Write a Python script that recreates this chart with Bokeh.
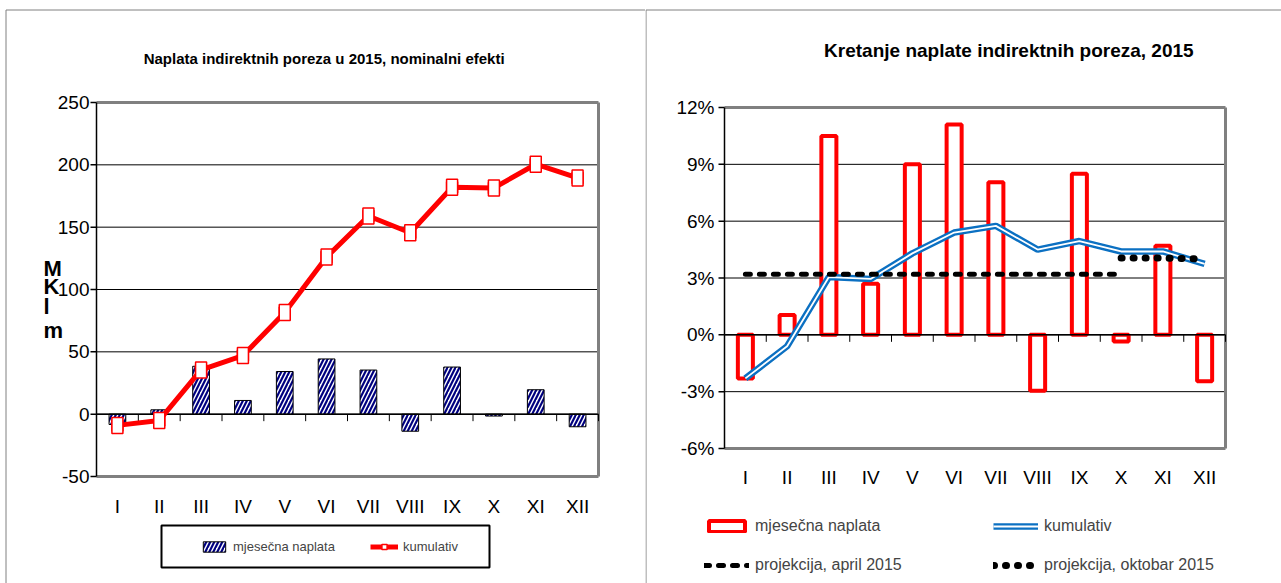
from bokeh.plotting import figure
from bokeh.models import Range1d, Legend, LegendItem
from bokeh.layouts import row
from bokeh.core.properties import value
from bokeh.embed import file_html
from bokeh.resources import INLINE

# ---------------- data ----------------
months = ["I", "II", "III", "IV", "V", "VI", "VII", "VIII", "IX", "X", "XI", "XII"]
left_title = "Naplata indirektnih poreza u 2015, nominalni efekti"
right_title = "Kretanje naplate indirektnih poreza,  2015"
left_ylabel_letters = ["M", "K", "l", "m"]

left_monthly = [-8.3, 3.5, 38.4, 11.0, 34.2, 44.3, 35.4, -13.7, 37.8, -1.5, 19.6, -10.1]
left_cumulative = [-9.0, -5.0, 35.5, 47.0, 81.5, 126.0, 159.0, 145.5, 182.0, 181.5, 200.5, 189.5]
left_y_ticks = [-50, 0, 50, 100, 150, 200, 250]
left_y_labels = ["-50", "0", "50", "100", "150", "200", "250"]

right_monthly = [-2.3, 1.05, 10.5, 2.7, 9.0, 11.1, 8.05, -2.95, 8.5, -0.35, 4.7, -2.45]
right_cumulative = [-2.3, -0.6, 3.05, 2.95, 4.3, 5.4, 5.75, 4.5, 4.95, 4.4, 4.4, 3.75]
proj_april_months = ["I", "II", "III", "IV", "V", "VI", "VII", "VIII", "IX", "X"]
proj_april = [3.2, 3.2, 3.2, 3.2, 3.2, 3.2, 3.2, 3.2, 3.2, 3.2]
proj_october_months = ["X", "XI", "XII"]
proj_october = [4.05, 4.05, 4.0]
right_y_ticks = [-6, -3, 0, 3, 6, 9, 12]
right_y_labels = ["-6%", "-3%", "0%", "3%", "6%", "9%", "12%"]

legend_monthly = "mjesečna naplata"
legend_cum = "kumulativ"
legend_april = "projekcija, april 2015"
legend_october = "projekcija, oktobar 2015"

# ---------------- styling ----------------
FONT = "Liberation Sans"
GRAY = "#808080"
RED = "#FF0000"
BLUE = "#0B70C2"
NAVY = "#000080"

xs = [months.index(m) + 1 for m in months]
x_april = [months.index(m) + 1 for m in proj_april_months]
x_october = [months.index(m) + 1 for m in proj_october_months]
bounds = [i + 0.5 for i in range(0, len(months) + 1)]
X_LO, X_HI = 0.5, len(months) + 0.5


def make_chart(W, H, fx0, fx1, fy_top, fy_bot, y_lo, y_hi):
    """Figure whose frame is the whole canvas; the plot area is mapped to the given pixels."""
    kx = (fx1 - fx0) / (X_HI - X_LO)
    ky = (fy_bot - fy_top) / (y_hi - y_lo)
    x_start = X_LO - fx0 / kx
    y_end = y_hi + fy_top / ky
    p = figure(width=W, height=H, x_range=Range1d(x_start, x_start + W / kx),
               y_range=Range1d(y_end - H / ky, y_end),
               output_backend="svg", toolbar_location=None,
               x_axis_location=None, y_axis_location=None,
               min_border=0, min_border_left=0, min_border_right=0,
               min_border_top=0, min_border_bottom=0)
    p.title.visible = False
    p.outline_line_color = None
    p.background_fill_color = "white"
    p.border_fill_color = "white"
    p.xgrid.visible = False
    p.ygrid.visible = False

    def X(px):
        return x_start + px / kx

    def Y(py):
        return y_end - py / ky

    return p, X, Y


def dress(p, X, Y, y_ticks, y_labels, label_px, tick_label_size, xlabel_py):
    y_lo, y_hi = y_ticks[0], y_ticks[-1]
    inner = y_ticks[1:-1]
    # horizontal grid
    p.segment(x0=[X_LO] * len(inner), x1=[X_HI] * len(inner), y0=inner, y1=inner,
              line_color="black", line_width=1)
    # gray plot-area border (top, right, bottom)
    p.segment(x0=[X_LO, X_HI, X_LO], x1=[X_HI, X_HI, X_HI], y0=[y_hi, y_lo, y_lo],
              y1=[y_hi, y_hi, y_lo], line_color=GRAY, line_width=3)
    # value axis
    tick_dx = X_LO - (X(6) - X(0))
    p.segment(x0=[X_LO], x1=[X_LO], y0=[y_lo], y1=[y_hi], line_color="black", line_width=1.5)
    p.segment(x0=[tick_dx] * len(y_ticks), x1=[X_LO] * len(y_ticks), y0=y_ticks, y1=y_ticks,
              line_color="black", line_width=1.5)
    p.text(x=[X(label_px)] * len(y_ticks), y=y_ticks, text=y_labels, text_align="right",
           text_baseline="middle", text_font=value(FONT), text_font_size=value(tick_label_size),
           text_color="black")
    # category labels
    p.text(x=xs, y=[Y(xlabel_py)] * len(xs), text=months, text_align="center",
           text_baseline="middle", text_font=value(FONT), text_font_size=value("19px"),
           text_color="black")


def zero_axis(p, X, Y):
    dy = Y(0) - Y(7)
    p.segment(x0=[X_LO], x1=[X_HI], y0=[0], y1=[0], line_color="black", line_width=1.5)
    p.segment(x0=bounds, x1=bounds, y0=[0] * len(bounds), y1=[-dy] * len(bounds),
              line_color="black", line_width=1)


def panel_border(p, X, Y, bx, by, W, H):
    p.segment(x0=[X(bx), X(bx)], x1=[X(bx), X(W)], y0=[Y(by), Y(by)], y1=[Y(H), Y(by)],
              line_color=GRAY, line_width=1)


# ---------------- left chart ----------------
W1, H = 645, 583
p1, X1, Y1 = make_chart(W1, H, 96, 598, 102, 476, -50, 250)
panel_border(p1, X1, Y1, 5.5, 9.5, W1, H)
dress(p1, X1, Y1, left_y_ticks, left_y_labels, 89, "19px", 506)

bars1 = p1.vbar(x=xs, top=left_monthly, bottom=0, width=0.4, fill_color="white",
                line_color="black", line_width=1, hatch_pattern="/", hatch_color=NAVY,
                hatch_scale=8, hatch_weight=2.2)
zero_axis(p1, X1, Y1)
line1 = p1.line(xs, left_cumulative, line_color=RED, line_width=5)
mk1 = p1.scatter(xs, left_cumulative, marker="square", size=11, fill_color="white",
                 line_color=RED, line_width=1.5)
p1.rect(xs, left_cumulative, width=11, height=16, width_units="screen", height_units="screen",
        fill_color="white", line_color=RED, line_width=1.5)

p1.text(x=[X1(323.6)], y=[Y1(57.6)], text=[left_title], text_align="center",
        text_baseline="middle", text_font=value(FONT), text_font_style="bold",
        text_font_size=value("15px"), text_color="black")
p1.text(x=[X1(43)] * 4, y=[Y1(v) for v in (268, 286, 306, 330)], text=left_ylabel_letters,
        text_align="left", text_baseline="middle", text_font=value(FONT),
        text_font_style="bold", text_font_size=value("22px"), text_color="black")

# legend box
p1.quad(left=[X1(161)], right=[X1(489)], top=[Y1(525)], bottom=[Y1(567)],
        fill_color="white", line_color="black", line_width=2)
leg1 = Legend(items=[LegendItem(label=legend_monthly, renderers=[bars1]),
                     LegendItem(label=legend_cum, renderers=[line1, mk1])],
              orientation="horizontal", location=(200, H - 554),
              glyph_width=28, glyph_height=13, label_standoff=5, spacing=33, padding=0,
              label_width=104, label_height=16,
              label_text_font=FONT, label_text_font_size="13px",
              border_line_color=None, background_fill_alpha=0, margin=0)
p1.add_layout(leg1, "center")

# ---------------- right chart ----------------
W2 = 636
p2, X2, Y2 = make_chart(W2, H, 79, 580, 107, 448, -6, 12)
panel_border(p2, X2, Y2, 0.5, 9.5, W2, H)
dress(p2, X2, Y2, right_y_ticks, right_y_labels, 69, "19px", 477)

bars2 = p2.vbar(x=xs, top=right_monthly, bottom=0, width=0.36, fill_color="white",
                line_color=RED, line_width=4)
zero_axis(p2, X2, Y2)
cum_outer = p2.line(xs, right_cumulative, line_color=BLUE, line_width=6.5)
cum_inner = p2.line(xs, right_cumulative, line_color="white", line_width=1.8)
apr = p2.line(x_april, proj_april, line_color="black", line_width=5, line_dash="5 9",
              line_cap="round")
octo = p2.line(x_october, proj_october, line_color="black", line_width=7, line_dash="1 11",
               line_cap="round")

p2.text(x=[X2(366)], y=[Y2(50)], text=[right_title], text_align="center",
        text_baseline="middle", text_font=value(FONT), text_font_style="bold",
        text_font_size=value("19px"), text_color="black")

leg2 = Legend(items=[LegendItem(label=legend_monthly, renderers=[bars2]),
                     LegendItem(label=legend_cum, renderers=[cum_outer, cum_inner]),
                     LegendItem(label=legend_april, renderers=[apr]),
                     LegendItem(label=legend_october, renderers=[octo])],
              orientation="horizontal", ncols=2, location=(59, H - 575),
              glyph_width=45, glyph_height=14, label_standoff=6, label_width=219,
              label_height=20, spacing=19, padding=0, margin=0,
              label_text_font=FONT, label_text_font_size="16px",
              border_line_color=None, background_fill_alpha=0)
p2.add_layout(leg2, "center")

layout = row(p1, p2)
open("out.html", "w").write(file_html(layout, INLINE))
